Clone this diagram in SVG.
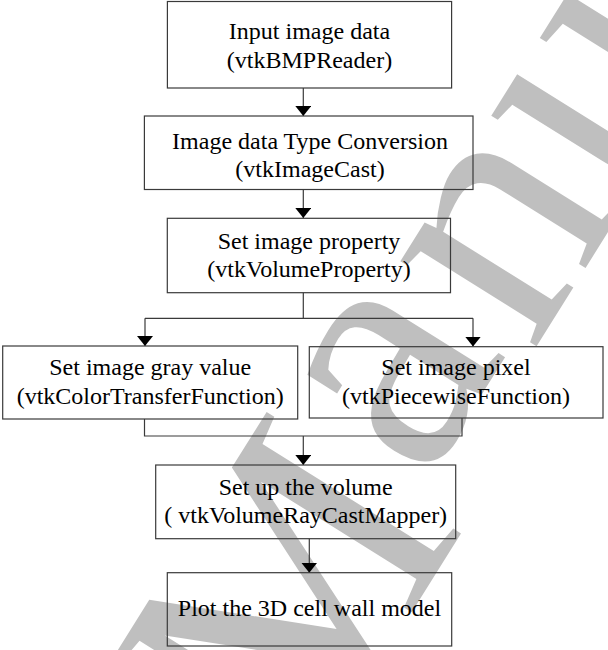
<svg xmlns="http://www.w3.org/2000/svg" width="608" height="650" viewBox="0 0 608 650">
<defs>
<style>
.box{fill:none;stroke:#3a3a3a;stroke-width:1.2}
.t{font-family:"Liberation Serif","Times New Roman",serif;font-size:24px;fill:#000;text-anchor:middle}
.ln{fill:none;stroke:#3a3a3a;stroke-width:1.2}
.wm{font-family:"Liberation Serif","Times New Roman",serif;font-size:350px;fill:#bfbfbf}
</style>
<marker id="ah" viewBox="0 0 10 16" refX="10" refY="8" markerWidth="10" markerHeight="16" markerUnits="userSpaceOnUse" orient="auto">
<path d="M0,0 L10,8 L0,16 Z" fill="#000"/>
</marker>
</defs>
<rect width="608" height="650" fill="#fff"/>
<text class="wm" transform="translate(301.5,788.6) rotate(-58)"><tspan>M</tspan><tspan dx="12" dy="-56">a</tspan><tspan dx="13" dy="21">nus</tspan></text>
<g id="connectors">
<line class="ln" x1="303.3" y1="88" x2="303.3" y2="116" marker-end="url(#ah)"/>
<line class="ln" x1="303.3" y1="190" x2="303.3" y2="218" marker-end="url(#ah)"/>
<polyline class="ln" points="303.3,292.7 303.3,318.3"/>
<polyline class="ln" points="145,318.3 473,318.3"/>
<line class="ln" x1="145" y1="318.3" x2="145" y2="346" marker-end="url(#ah)"/>
<line class="ln" x1="473" y1="318.3" x2="473" y2="346.5" marker-end="url(#ah)"/>
<polyline class="ln" points="144.5,419 144.5,436 462,436 462,418"/>
<line class="ln" x1="303.3" y1="436" x2="303.3" y2="465" marker-end="url(#ah)"/>
<line class="ln" x1="309.3" y1="538.7" x2="309.3" y2="572.7" marker-end="url(#ah)"/>
</g>
<g id="n1">
<rect class="box" x="167.4" y="1.5" width="284.2" height="86.5"/>
<text class="t" x="309.5" y="39">Input image data</text>
<text class="t" x="309.5" y="68">(vtkBMPReader)</text>
</g>
<g id="n2">
<rect class="box" x="144.4" y="116" width="328.6" height="73.5"/>
<text class="t" x="310" y="149">Image data Type Conversion</text>
<text class="t" x="310" y="177">(vtkImageCast)</text>
</g>
<g id="n3">
<rect class="box" x="167.3" y="218.3" width="283.2" height="74.4"/>
<text class="t" x="309" y="248.5">Set image property</text>
<text class="t" x="309" y="277">(vtkVolumeProperty)</text>
</g>
<g id="n4">
<rect class="box" x="2.7" y="346" width="295" height="73"/>
<text class="t" x="150.2" y="375">Set image gray value</text>
<text class="t" x="150.2" y="404">(vtkColorTransferFunction)</text>
</g>
<g id="n5">
<rect class="box" x="309.3" y="346.7" width="293.7" height="71.3"/>
<text class="t" x="456" y="375">Set image pixel</text>
<text class="t" x="456" y="404">(vtkPiecewiseFunction)</text>
</g>
<g id="n6">
<rect class="box" x="155.7" y="465" width="300" height="73.7"/>
<text class="t" x="305.7" y="494.5">Set up the volume</text>
<text class="t" x="305.7" y="523">( vtkVolumeRayCastMapper)</text>
</g>
<g id="n7">
<rect class="box" x="167.3" y="572.7" width="284.4" height="73.3"/>
<text class="t" x="309.5" y="616">Plot the 3D cell wall model</text>
</g>
</svg>
